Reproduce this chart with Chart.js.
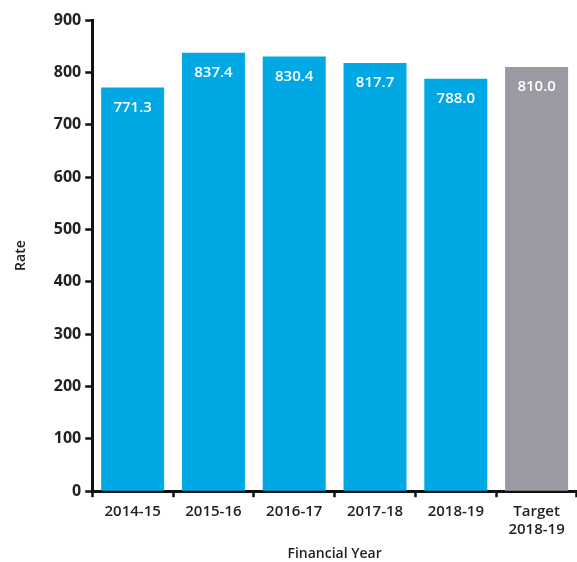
<!DOCTYPE html>
<html>
<head>
<meta charset="utf-8">
<script src="https://cdn.jsdelivr.net/npm/chart.js@4"></script>
<style>
  html, body { margin: 0; padding: 0; background: #fff; }
  #wrap { width: 577px; height: 562px; position: relative; }
</style>
</head>
<body>
<div id="wrap"><canvas id="c"></canvas></div>
<script>
const categories = ['2014-15', '2015-16', '2016-17', '2017-18', '2018-19', ['Target', '2018-19']];
const rates = [771.3, 837.4, 830.4, 817.7, 788.0, 810.0];
const barColors = ['#00a9e4', '#00a9e4', '#00a9e4', '#00a9e4', '#00a9e4', '#999aa2'];
const yTicks = [0, 100, 200, 300, 400, 500, 600, 700, 800, 900];

const FONT = '"Open Sans", "Lato", sans-serif';

// Writes each bar's value in white just inside its top edge
const valueLabels = {
  id: 'valueLabels',
  afterDatasetsDraw(chart) {
    const ctx = chart.ctx;
    const meta = chart.getDatasetMeta(0);
    ctx.save();
    ctx.fillStyle = '#ffffff';
    ctx.font = '600 15px ' + FONT;
    ctx.textAlign = 'center';
    ctx.textBaseline = 'middle';
    meta.data.forEach((bar, i) => {
      ctx.fillText(rates[i].toFixed(1), bar.x, bar.y + 20);
    });
    ctx.restore();
  }
};

new Chart(document.getElementById('c'), {
  type: 'bar',
  data: {
    labels: categories,
    datasets: [{
      data: rates,
      backgroundColor: barColors,
      categoryPercentage: 0.78,
      barPercentage: 1.0
    }]
  },
  options: {
    responsive: true,
    maintainAspectRatio: false,
    animation: false,
    layout: { padding: { top: 20, right: 0, bottom: 0, left: 13 } },
    plugins: {
      legend: { display: false },
      tooltip: { enabled: false }
    },
    scales: {
      x: {
        grid: {
          display: true,
          drawOnChartArea: false,
          drawTicks: true,
          tickLength: 6,
          tickColor: '#111',
          tickWidth: 2.5,
          offset: true
        },
        border: { display: true, color: '#111', width: 3 },
        ticks: {
          color: '#222',
          font: { family: FONT, size: 15, weight: '600' },
          padding: 6,
          maxRotation: 0
        },
        title: {
          display: true,
          text: 'Financial Year',
          color: '#222',
          font: { family: FONT, size: 14, weight: '600' },
          padding: { top: 0, bottom: 0 }
        }
      },
      y: {
        min: 0,
        max: 900,
        afterBuildTicks(scale) {
          scale.ticks = yTicks.map(v => ({ value: v }));
        },
        grid: {
          display: true,
          drawOnChartArea: false,
          drawTicks: true,
          tickLength: 7,
          tickColor: '#111',
          tickWidth: 2.5
        },
        border: { display: true, color: '#111', width: 3 },
        ticks: {
          color: '#222',
          font: { family: FONT, size: 16, weight: '700' },
          padding: 4
        },
        title: {
          display: true,
          text: 'Rate',
          color: '#222',
          font: { family: FONT, size: 14, weight: '600' },
          padding: { top: 0, bottom: 20 }
        }
      }
    }
  },
  plugins: [valueLabels]
});
</script>
</body>
</html>
